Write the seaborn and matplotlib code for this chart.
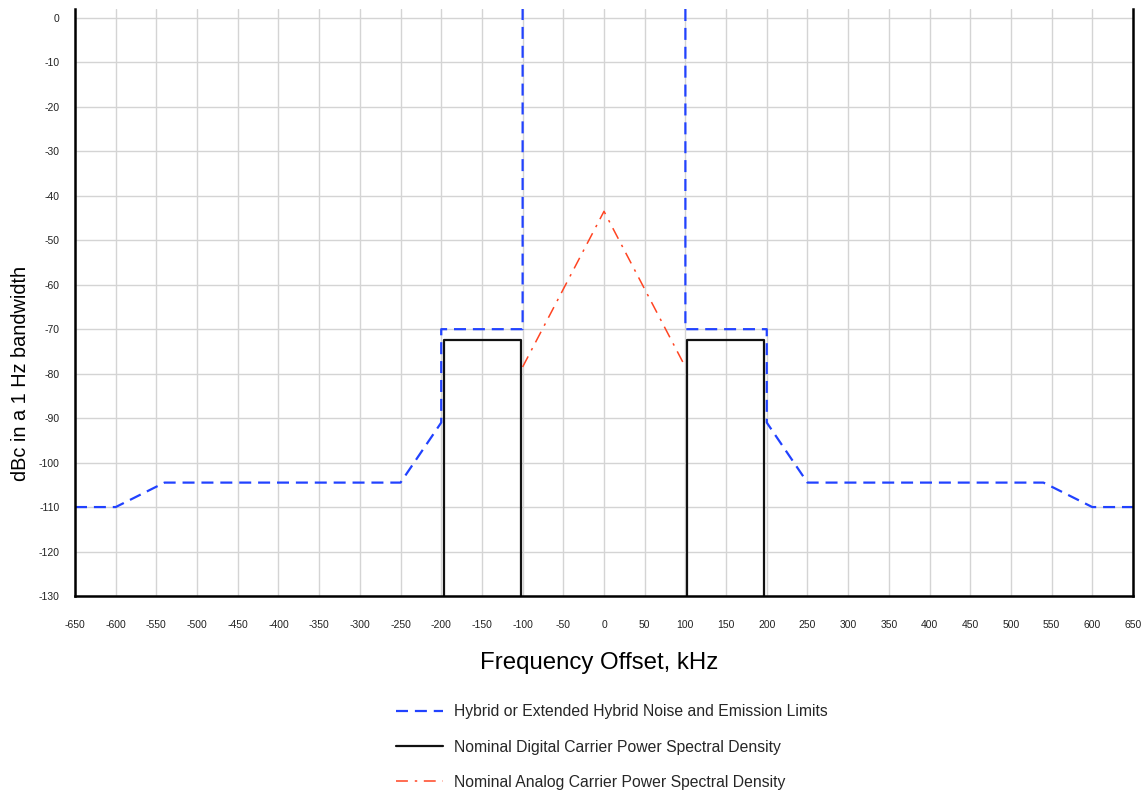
"""
Hybrid FM spectral emission mask vs nominal carrier PSDs
"""

import numpy as np
import pandas as pd
import matplotlib
matplotlib.use("Agg")
import matplotlib.pyplot as plt
from matplotlib.lines import Line2D
import seaborn as sns

# --- data ---
# emission limit mask, drawn as two pieces (left / right of the carrier)
noise_side = ["left"] * 8 + ["right"] * 8
noise_freq = [-650, -600, -540, -250, -200, -200, -100, -100,
              100, 100, 200, 200, 250, 540, 600, 650]
noise_dbc = [-110, -110, -104.5, -104.5, -91, -70, -70, 2,
             2, -70, -70, -91, -104.5, -104.5, -110, -110]

# digital sidebands (two boxes)
digital_side = ["left"] * 4 + ["right"] * 4
digital_freq = [-196, -196, -101.5, -101.5, 101.5, 101.5, 196, 196]
digital_dbc = [-130, -72.5, -72.5, -130, -130, -72.5, -72.5, -130]

# analog carrier
analog_freq = [-100, 0, 100]
analog_dbc = [-78.5, -43.5, -78.5]

x_ticks = list(range(-650, 651, 50))
y_ticks = list(range(-130, 1, 10))

legend_labels = [
    "Hybrid or Extended Hybrid Noise and Emission Limits",
    "Nominal Digital Carrier Power Spectral Density",
    "Nominal Analog Carrier Power Spectral Density",
]

BLUE = "#2142ff"
BLACK = "#111111"
RED = "#ff4422"

sns.set_theme(style="whitegrid")
plt.rcParams["font.family"] = ["Liberation Sans", "DejaVu Sans"]
plt.rcParams["axes.unicode_minus"] = False

noise_df = pd.DataFrame({"side": noise_side, "freq": noise_freq, "dbc": noise_dbc})
digital_df = pd.DataFrame({"side": digital_side, "freq": digital_freq, "dbc": digital_dbc})
analog_df = pd.DataFrame({"freq": analog_freq, "dbc": analog_dbc})

fig, ax = plt.subplots(figsize=(11.42, 7.90), dpi=100)
fig.subplots_adjust(left=75 / 1142, right=1133 / 1142, top=1 - 9 / 790, bottom=1 - 596 / 790)

noise_dash = (5.4, 3.1)
analog_dash = (7.8, 4.5, 1.6, 4.3)

sns.lineplot(data=noise_df, x="freq", y="dbc", units="side", estimator=None,
             sort=False, color=BLUE, lw=1.6, ax=ax, legend=False)
for ln in ax.get_lines():
    ln.set_dashes(noise_dash)
sns.lineplot(data=digital_df, x="freq", y="dbc", units="side", estimator=None,
             sort=False, color=BLACK, lw=1.6, ax=ax, legend=False)
sns.lineplot(data=analog_df, x="freq", y="dbc", estimator=None,
             sort=False, color=RED, lw=1.1, ax=ax, legend=False)
ax.get_lines()[-1].set_dashes(analog_dash)

ax.set_xlim(-650, 650)
ax.set_ylim(-130, 2)
ax.set_xticks(x_ticks)
ax.set_yticks(y_ticks)
ax.tick_params(axis="x", labelsize=7.5, pad=17, length=0, labelcolor="#222222")
ax.tick_params(axis="y", labelsize=7.5, pad=11, length=0, labelcolor="#222222")

ax.grid(True, color="#d4d4d4", lw=1.0)
for side in ["left", "bottom", "right"]:
    ax.spines[side].set_visible(True)
    ax.spines[side].set_color("black")
    ax.spines[side].set_linewidth(1.8)
ax.spines["top"].set_visible(False)

ax.set_xlabel("Frequency Offset, kHz", fontsize=17.3, color="black")
ax.set_ylabel("dBc in a 1 Hz bandwidth", fontsize=14.3, color="black")
ax.xaxis.set_label_coords(0.495, -0.096)
ax.yaxis.set_label_coords(-0.043, 0.38)

handles = [
    Line2D([], [], color=BLUE, lw=1.6, dashes=noise_dash),
    Line2D([], [], color=BLACK, lw=1.6),
    Line2D([], [], color=RED, lw=1.1, dashes=analog_dash),
]
fig.legend(handles, legend_labels, loc="upper left",
           bbox_to_anchor=(382 / 1142, 1 - 690 / 790), frameon=False,
           fontsize=11.3, handlelength=3.0, handletextpad=0.7, labelspacing=1.3)

plt.savefig("out.png", dpi=100)
